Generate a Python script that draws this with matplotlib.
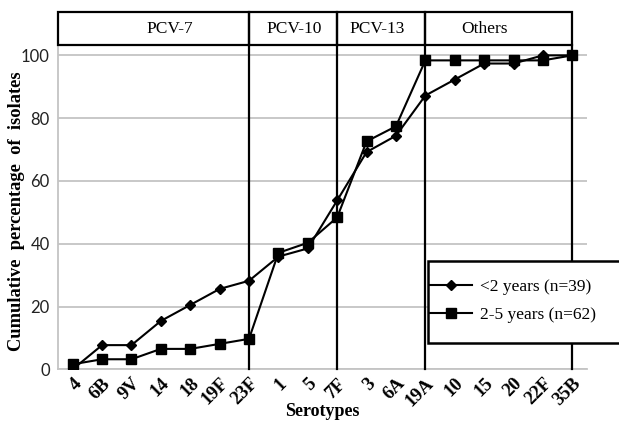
import matplotlib
matplotlib.use("Agg")
import matplotlib.pyplot as plt
from matplotlib.patches import Rectangle
from matplotlib.lines import Line2D

serotypes = ["4", "6B", "9V", "14", "18", "19F", "23F", "1", "5", "7F",
             "3", "6A", "19A", "10", "15", "20", "22F", "35B"]
under2 = [0, 7.7, 7.7, 15.4, 20.5, 25.6, 28.2, 35.9, 38.5, 53.8,
          69.2, 74.4, 87.2, 92.3, 97.4, 97.4, 100, 100]
age2to5 = [1.6, 3.2, 3.2, 6.5, 6.5, 8.1, 9.7, 37.1, 40.3, 48.4,
           72.6, 77.4, 98.4, 98.4, 98.4, 98.4, 98.4, 100]
groups = ["PCV-7", "PCV-10", "PCV-13", "Others"]
group_end = ["23F", "7F", "19A", "35B"]
yticks = [0, 20, 40, 60, 80, 100]

serif = ["Liberation Serif", "DejaVu Serif"]

fig = plt.figure(figsize=(6.19, 4.22), dpi=100)
W, H = 619, 422
ax = fig.add_axes([58 / W, 1 - 369.3 / H, (587 - 58) / W, (369.3 - 45) / H])

x = list(range(len(serotypes)))
ymax = 103.3
ytop = 113.8
ax.set_xlim(-0.5, len(serotypes) - 0.5)
ax.set_ylim(0, ymax)

# gridlines
ax.set_yticks(yticks)
ax.yaxis.grid(True, color="#c4c4c4", linewidth=1.3)
ax.set_axisbelow(True)
for s in ["top", "right"]:
    ax.spines[s].set_visible(False)
for s in ["left", "bottom"]:
    ax.spines[s].set_color("#c4c4c4")
    ax.spines[s].set_linewidth(1.3)
ax.tick_params(axis="both", length=0)
ax.tick_params(axis="y", pad=6)
for lab in ax.get_yticklabels():
    lab.set_fontfamily(["Lato", "DejaVu Sans"])
    lab.set_fontsize(12)
    lab.set_color("#222222")

ax.set_xticks(x)
ax.set_xticklabels(serotypes, rotation=45, ha="right", va="top",
                   rotation_mode="anchor", fontfamily=serif,
                   fontweight="bold", fontsize=13.5)
ax.tick_params(axis="x", pad=4)

# header boxes and vertical dividers
edges = [-0.5] + [serotypes.index(g) for g in group_end]
label_shift = [0.55, 0.05, -0.15, -0.5]
for i, name in enumerate(groups):
    x0, x1 = edges[i], edges[i + 1]
    ax.add_patch(Rectangle((x0, ymax), x1 - x0, ytop - ymax, fill=False,
                           edgecolor="black", linewidth=1.6, clip_on=False,
                           zorder=5))
    ax.text((x0 + x1) / 2 + label_shift[i], (ymax + ytop) / 2, name,
            ha="center", va="center", fontfamily=serif, fontsize=12.5,
            clip_on=False)
for g in group_end:
    xi = serotypes.index(g)
    ax.plot([xi, xi], [0, ymax], color="black", linewidth=1.6,
            clip_on=False, zorder=3)

ax.plot(x, under2, color="black", linewidth=1.5, marker="D", markersize=5,
        zorder=4)
ax.plot(x, age2to5, color="black", linewidth=1.5, marker="s", markersize=6.5,
        zorder=4)

ax.set_ylabel("Cumulative  percentage  of  isolates", fontfamily=serif,
              fontweight="bold", fontsize=13.3)
ax.yaxis.set_label_coords(-0.062, 0.487)
ax.set_xlabel("Serotypes", fontfamily=serif, fontweight="bold",
              fontsize=13)
ax.xaxis.set_label_coords(0.5, -0.105)

# legend box
fig.patches.append(Rectangle((427.7 / W, 1 - 343 / H), (640 - 427.7) / W,
                             (343 - 261) / H, transform=fig.transFigure,
                             facecolor="white", edgecolor="black",
                             linewidth=1.8, zorder=10))
handles = [Line2D([], [], color="black", linewidth=1.5, marker="D",
                  markersize=5),
           Line2D([], [], color="black", linewidth=1.5, marker="s",
                  markersize=6.5)]
leg = fig.legend(handles, ["<2 years (n=39)", "2-5 years (n=62)"],
                 loc="center left", bbox_to_anchor=(430 / W, 1 - 301 / H),
                 frameon=False, prop={"family": serif, "size": 12.5},
                 handlelength=2.4, handletextpad=0.5, labelspacing=0.65,
                 borderpad=0, borderaxespad=0)
leg.set_zorder(11)

fig.savefig("out.png", dpi=100)
